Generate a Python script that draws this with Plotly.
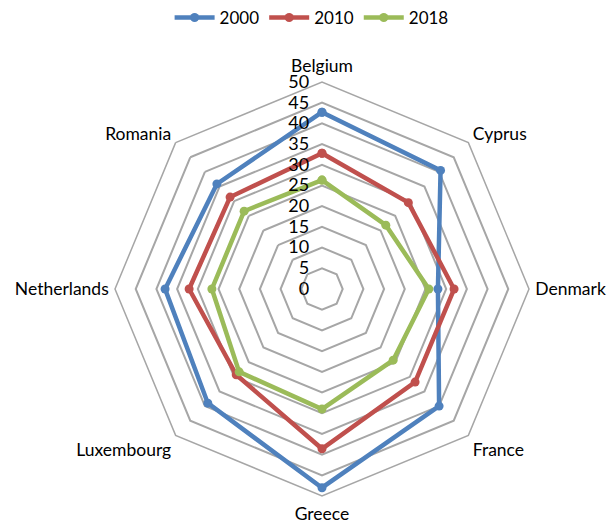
import plotly.graph_objects as go

countries = ["Belgium", "Cyprus", "Denmark", "France", "Greece",
             "Luxembourg", "Netherlands", "Romania"]
years = ["2000", "2010", "2018"]
v2000 = [42.7, 40.5, 28.0, 40.0, 48.0, 39.0, 37.9, 35.9]
v2010 = [32.8, 29.5, 31.9, 31.8, 38.6, 29.3, 32.1, 31.4]
v2018 = [26.3, 21.8, 25.8, 24.3, 29.0, 28.3, 26.6, 26.6]
colors = ["#4F81BD", "#C0504D", "#9BBB59"]
radial_ticks = list(range(0, 55, 5))

fig = go.Figure()
for name, vals, col in zip(years, [v2000, v2010, v2018], colors):
    fig.add_trace(go.Scatterpolar(
        r=vals + vals[:1],
        theta=countries + countries[:1],
        name=name,
        mode="lines+markers",
        line=dict(color=col, width=4.5),
        marker=dict(color=col, size=9),
    ))

W, H = 611, 524
cx, cy, R = 322, 289, 207
fig.update_layout(
    width=W, height=H,
    margin=dict(l=0, r=0, t=0, b=0),
    paper_bgcolor="white",
    font=dict(family="Lato, Carlito, sans-serif", size=17, color="black"),
    showlegend=True,
    legend=dict(orientation="h", x=0.51, xanchor="center", y=1.0, yanchor="top",
                font=dict(size=17), itemwidth=40, tracegroupgap=0),
    polar=dict(
        domain=dict(x=[(cx - R) / W, (cx + R) / W],
                    y=[(H - cy - R) / H, (H - cy + R) / H]),
        gridshape="linear",
        bgcolor="white",
        angularaxis=dict(
            direction="clockwise", rotation=90,
            showgrid=False, showline=True, linecolor="#A6A6A6", linewidth=1.5,
            ticks="outside", ticklen=2, tickcolor="rgba(0,0,0,0)",
            tickfont=dict(size=17.5),
        ),
        radialaxis=dict(
            range=[0, 50], tickvals=radial_ticks,
            angle=90, side="counterclockwise", tickangle=90,
            showline=False, ticks="outside", ticklen=6,
            tickcolor="rgba(0,0,0,0)",
            gridcolor="#A6A6A6", gridwidth=1.5,
            tickfont=dict(size=18),
        ),
    ),
)

fig.write_html("out.html")
